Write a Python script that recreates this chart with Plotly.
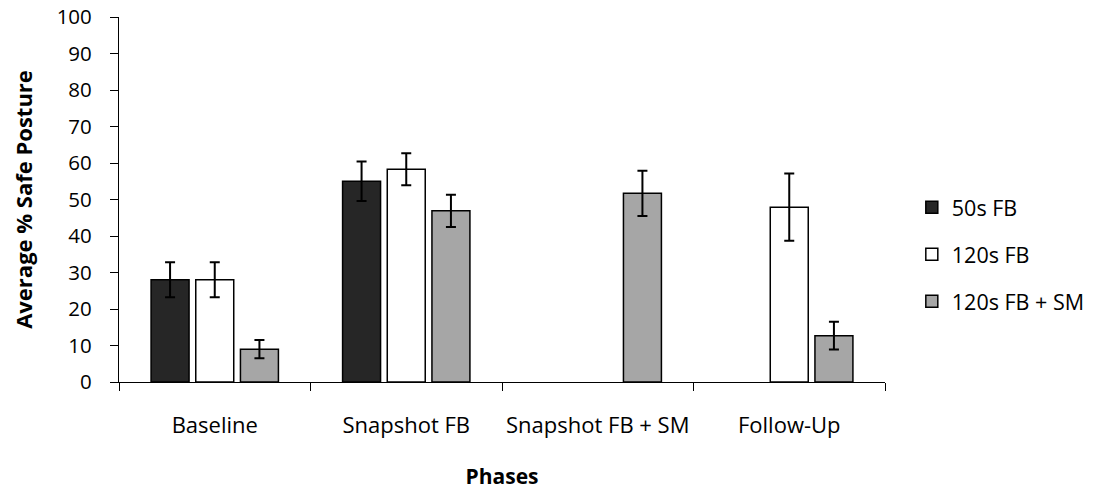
import plotly.graph_objects as go

phases = ["Baseline", "Snapshot FB", "Snapshot FB + SM", "Follow-Up"]
series_names = ["50s FB", "120s FB", "120s FB + SM"]
fb50 = [28, 55, None, None]
fb50_err = [4.8, 5.4, None, None]
fb120 = [28, 58.3, None, 47.9]
fb120_err = [4.8, 4.4, None, 9.2]
fbsm = [9, 46.9, 51.7, 12.7]
fbsm_err = [2.5, 4.4, 6.2, 3.8]
y_ticks = list(range(0, 101, 10))

colors = ["#262626", "#ffffff", "#a6a6a6"]
values = [fb50, fb120, fbsm]
errors = [fb50_err, fb120_err, fbsm_err]

FONT = "Open Sans, Calibri, Carlito, sans-serif"

fig = go.Figure()
for name, vals, errs, col in zip(series_names, values, errors, colors):
    fig.add_trace(go.Bar(
        name=name, x=phases, y=vals,
        marker=dict(color=col, line=dict(color="black", width=1.5)),
        error_y=dict(type="data", array=errs, visible=True,
                     color="black", thickness=2, width=5),
        legendgroup=name,
    ))

fig.update_layout(
    width=1098, height=491,
    paper_bgcolor="white", plot_bgcolor="white",
    margin=dict(l=111, r=221, t=9, b=117),
    barmode="group", bargap=0.30, bargroupgap=0.15,
    font=dict(family=FONT, size=21, color="black"),
    showlegend=True,
    legend=dict(x=1.035, y=0.35, xanchor="left", yanchor="middle",
                font=dict(family=FONT, size=21.5), tracegroupgap=16,
                bgcolor="rgba(0,0,0,0)"),
    xaxis=dict(
        automargin=False,
        showline=True, linecolor="black", linewidth=1.2,
        ticks="outside", tickson="boundaries", ticklen=8, tickcolor="black",
        tickangle=0,
        tickfont=dict(family=FONT, size=22), ticklabelstandoff=23,
        title=dict(text="<b>Phases</b>", font=dict(family=FONT, size=21), standoff=31),
        showgrid=False,
    ),
    yaxis=dict(
        automargin=False,
        range=[0, 100], tickvals=y_ticks,
        showline=True, linecolor="black", linewidth=1.2,
        ticks="outside", ticklen=8, tickcolor="black",
        ticklabeloverflow="allow",
        tickfont=dict(family=FONT, size=20.5), ticklabelstandoff=14,
        showgrid=False, zeroline=False,
        title=dict(text="<b>Average % Safe Posture</b>", font=dict(family=FONT, size=22), standoff=32),
    ),
)

fig.write_html("out.html")
